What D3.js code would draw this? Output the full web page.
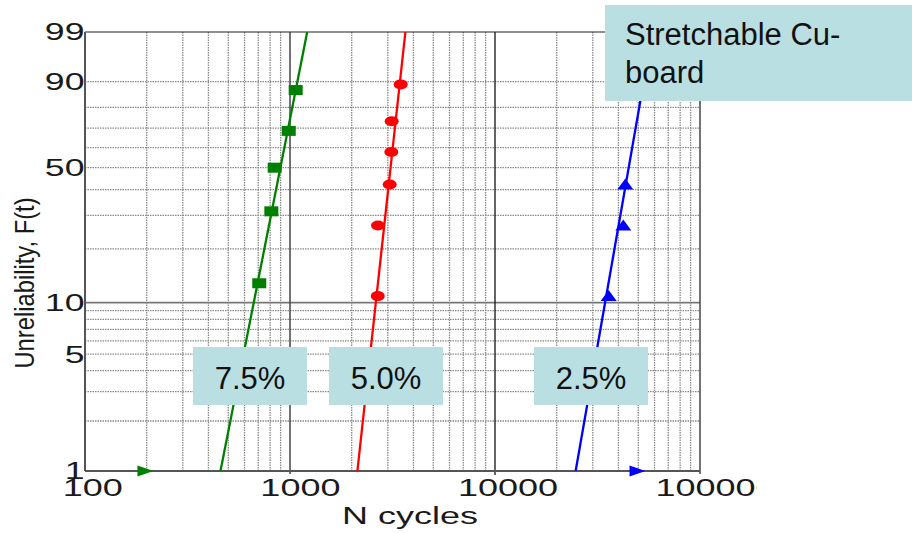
<!DOCTYPE html>
<html>
<head>
<meta charset="utf-8">
<script src="https://cdn.jsdelivr.net/npm/d3@7"></script>
<style>
  body { margin: 0; background: #fff; }
  svg { display: block; font-family: "Liberation Sans", Arial, sans-serif; }
</style>
</head>
<body>
<div id="chart"></div>
<script>
// tick labels / grid values
const xTicks = [100, 1000, 10000, 100000];
const yTicks = [1, 5, 10, 50, 90, 99];
const yMinorGrid = [2, 3, 4, 5, 6, 7, 8, 9, 20, 30, 40, 50, 60, 70, 80, 90];
const yMajorGrid = [10];

// 7.5% strain (green)
const greenCycles = [708, 811, 842, 986, 1066];
const greenF = [12.9, 31.4, 50.0, 68.6, 87.1];
const greenFitCycles = [458, 1213];
const greenSuspended = [195];

// 5.0% strain (red)
const redCycles = [2680, 2687, 3065, 3120, 3134, 3467];
const redF = [10.9, 26.6, 42.2, 57.8, 73.4, 89.1];
const redFitCycles = [2132, 3655];

// 2.5% strain (blue)
const blueCycles = [35850, 42260, 43220];
const blueF = [10.9, 26.6, 42.2];
const blueFitCycles = [24740, 58600];
const blueSuspended = [49000];

const fitF = [1, 99];

const W = 912, H = 533;
const plot = { left: 85, right: 700, top: 32, bottom: 471 };

const svg = d3.select('#chart').append('svg')
  .attr('width', W)
  .attr('height', H);

const weib = f => Math.log(-Math.log(1 - f / 100));

const x = d3.scaleLog()
  .domain([100, 100000])
  .range([plot.left, plot.right]);

const yW = d3.scaleLinear()
  .domain([weib(1), weib(99)])
  .range([plot.bottom, plot.top]);
const y = f => yW(weib(f));

// vertical grid
const xMinor = [];
[100, 1000, 10000].forEach(dec => {
  for (let k = 2; k <= 9; k++) xMinor.push(dec * k);
});

const grid = svg.append('g');
grid.selectAll('.vminor')
  .data(xMinor)
  .enter().append('line')
  .attr('x1', d => x(d)).attr('x2', d => x(d))
  .attr('y1', plot.top).attr('y2', plot.bottom)
  .attr('stroke', '#8a8a8a')
  .attr('stroke-width', 1.3)
  .attr('stroke-dasharray', '1.5,1');

grid.selectAll('.hminor')
  .data(yMinorGrid)
  .enter().append('line')
  .attr('x1', plot.left).attr('x2', plot.right)
  .attr('y1', d => y(d)).attr('y2', d => y(d))
  .attr('stroke', '#8a8a8a')
  .attr('stroke-width', 1.3)
  .attr('stroke-dasharray', '1.5,1');

grid.selectAll('.hmajor')
  .data(yMajorGrid)
  .enter().append('line')
  .attr('x1', plot.left).attr('x2', plot.right)
  .attr('y1', d => y(d)).attr('y2', d => y(d))
  .attr('stroke', '#777')
  .attr('stroke-width', 1.6);

grid.append('line')
  .attr('x1', x(1000)).attr('x2', x(1000))
  .attr('y1', plot.top).attr('y2', plot.bottom + 3)
  .attr('stroke', '#444').attr('stroke-width', 1.5);
grid.append('line')
  .attr('x1', x(10000)).attr('x2', x(10000))
  .attr('y1', plot.top).attr('y2', plot.bottom + 4)
  .attr('stroke', '#111').attr('stroke-width', 1.3);

// frame
grid.append('line')
  .attr('x1', plot.left).attr('x2', plot.right)
  .attr('y1', plot.top).attr('y2', plot.top)
  .attr('stroke', '#222').attr('stroke-width', 1.2);
grid.append('line')
  .attr('x1', plot.right).attr('x2', plot.right)
  .attr('y1', plot.top).attr('y2', plot.bottom + 3)
  .attr('stroke', '#444').attr('stroke-width', 1.5);
grid.append('line')
  .attr('x1', plot.left).attr('x2', plot.left)
  .attr('y1', plot.top).attr('y2', plot.bottom)
  .attr('stroke', '#555').attr('stroke-width', 2);
grid.append('line')
  .attr('x1', plot.left).attr('x2', plot.right)
  .attr('y1', plot.bottom).attr('y2', plot.bottom)
  .attr('stroke', '#555').attr('stroke-width', 2);

// y tick labels
svg.append('g').selectAll('text')
  .data(yTicks)
  .enter().append('text')
  .attr('transform', d => `translate(84.5,${y(d)}) scale(1.55,1)`)
  .attr('text-anchor', 'end')
  .attr('dy', '0.36em')
  .style('font-size', '23px')
  .attr('fill', '#1a1a1a')
  .text(d => d);

// x tick labels (last one is cut off by the chart frame)
svg.append('clipPath').attr('id', 'labelClip')
  .append('rect').attr('x', 0).attr('y', 0).attr('width', 757).attr('height', H);

const xLab = svg.append('g').attr('clip-path', 'url(#labelClip)');
xLab.selectAll('text')
  .data(xTicks)
  .enter().append('text')
  .attr('text-anchor', 'start')
  .style('font-size', '24px')
  .attr('fill', '#1a1a1a')
  .text(d => d)
  .each(function(d) {
    const w = this.getComputedTextLength() * 1.5;
    d3.select(this).attr('transform', `translate(${x(d) - 0.37 * w},496) scale(1.5,1)`);
  });

// axis titles
svg.append('text')
  .attr('transform', 'translate(410,524) scale(1.5,1)')
  .attr('text-anchor', 'middle')
  .style('font-size', '24px')
  .attr('fill', '#1a1a1a')
  .text('N cycles');

svg.append('text')
  .attr('transform', 'translate(34,283) rotate(-90) scale(0.88,1)')
  .attr('text-anchor', 'middle')
  .style('font-size', '27px')
  .attr('fill', '#1a1a1a')
  .text('Unreliability, F(t)');

// fit lines
const series = [
  { color: '#008000', cycles: greenCycles, F: greenF, fit: greenFitCycles, marker: 'square', susp: greenSuspended },
  { color: '#ff0000', cycles: redCycles, F: redF, fit: redFitCycles, marker: 'ellipse', susp: [] },
  { color: '#0000ff', cycles: blueCycles, F: blueF, fit: blueFitCycles, marker: 'triangle', susp: blueSuspended }
];

const line = d3.line()
  .x(d => x(d[0]))
  .y(d => y(d[1]));

series.forEach(s => {
  const g = svg.append('g');
  g.append('path')
    .datum(s.fit.map((c, i) => [c, fitF[i]]))
    .attr('d', line)
    .attr('fill', 'none')
    .attr('stroke', s.color)
    .attr('stroke-width', 2.3);

  const pts = s.cycles.map((c, i) => [c, s.F[i]]);
  if (s.marker === 'square') {
    g.selectAll('rect').data(pts).enter().append('rect')
      .attr('x', d => x(d[0]) - 7).attr('y', d => y(d[1]) - 5)
      .attr('width', 14).attr('height', 10)
      .attr('fill', s.color);
  } else if (s.marker === 'ellipse') {
    g.selectAll('ellipse').data(pts).enter().append('ellipse')
      .attr('cx', d => x(d[0])).attr('cy', d => y(d[1]))
      .attr('rx', 7).attr('ry', 5)
      .attr('fill', s.color);
  } else {
    g.selectAll('path.tri').data(pts).enter().append('path')
      .attr('class', 'tri')
      .attr('d', d => {
        const cx = x(d[0]), cy = y(d[1]);
        return `M${cx - 8},${cy + 5}L${cx + 8},${cy + 5}L${cx},${cy - 6}Z`;
      })
      .attr('fill', s.color);
  }

  // suspended units, drawn on the bottom axis
  g.selectAll('path.susp').data(s.susp).enter().append('path')
    .attr('class', 'susp')
    .attr('d', d => {
      const cx = x(d), cy = plot.bottom;
      return `M${cx - 7},${cy - 5.5}L${cx + 9},${cy}L${cx - 7},${cy + 5.5}Z`;
    })
    .attr('fill', s.color);
});

// strain labels
const boxFill = '#b9dfe2';
const boxes = [
  { x0: 193, x1: 307, text: '7.5%' },
  { x0: 329, x1: 443, text: '5.0%' },
  { x0: 534, x1: 648, text: '2.5%' }
];
const bg = svg.append('g');
boxes.forEach(b => {
  bg.append('rect')
    .attr('x', b.x0).attr('y', 347)
    .attr('width', b.x1 - b.x0).attr('height', 58)
    .attr('fill', boxFill);
  bg.append('text')
    .attr('x', (b.x0 + b.x1) / 2).attr('y', 389)
    .attr('text-anchor', 'middle')
    .style('font-size', '31px')
    .attr('fill', '#111')
    .text(b.text);
});

bg.append('rect')
  .attr('x', 605).attr('y', 5)
  .attr('width', 307).attr('height', 96)
  .attr('fill', boxFill);
bg.append('text')
  .attr('x', 625).attr('y', 45)
  .style('font-size', '31px')
  .attr('fill', '#111')
  .text('Stretchable Cu-');
bg.append('text')
  .attr('x', 625).attr('y', 83)
  .style('font-size', '31px')
  .attr('fill', '#111')
  .text('board');
</script>
</body>
</html>
